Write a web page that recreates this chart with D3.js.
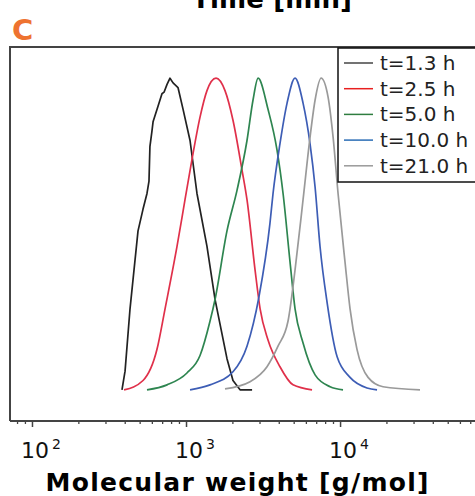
<!DOCTYPE html>
<html>
<head>
<meta charset="utf-8">
<script src="https://cdn.jsdelivr.net/npm/d3@7"></script>
<style>
  body { margin: 0; background: #fff; }
  svg { display: block; font-family: "DejaVu Sans", Verdana, sans-serif; }
</style>
</head>
<body>
<script>
// molecular weight [g/mol] and normalised intensity
const mw13 = [384, 402, 433, 488, 526, 558, 575, 583, 601, 611, 658, 698, 720, 753, 787, 824, 887, 957, 1062, 1178, 1368, 1543, 1845, 2018, 2243, 2685];
const in13 = [0, 0.06, 0.26, 0.51, 0.58, 0.63, 0.67, 0.78, 0.83, 0.86, 0.91, 0.95, 0.955, 0.98, 1.0, 0.985, 0.97, 0.90, 0.80, 0.63, 0.46, 0.29, 0.10, 0.03, 0, 0];

const mw25 = [396, 526, 648, 731, 874, 985, 1094, 1233, 1368, 1566, 1791, 2018, 2310, 2488, 2806, 3027, 3407, 4074, 4951, 6577];
const in25 = [0, 0.03, 0.13, 0.26, 0.46, 0.61, 0.74, 0.875, 0.96, 1.0, 0.96, 0.865, 0.705, 0.61, 0.385, 0.26, 0.16, 0.074, 0.016, 0];

const mw50 = [558, 753, 1014, 1233, 1431, 1543, 1845, 2143, 2488, 2723, 2937, 3407, 3896, 4266, 4735, 5103, 5752, 6886, 8615, 10450];
const in50 = [0, 0.016, 0.054, 0.11, 0.22, 0.29, 0.51, 0.64, 0.80, 0.93, 1.0, 0.90, 0.77, 0.63, 0.41, 0.26, 0.15, 0.048, 0.01, 0];

const mw100 = [1062, 1431, 2018, 2488, 2979, 3508, 3672, 4074, 4529, 5103, 5752, 6383, 6886, 7413, 8241, 9572, 11610, 14970, 17380];
const in100 = [0, 0.016, 0.058, 0.14, 0.30, 0.535, 0.63, 0.79, 0.92, 1.0, 0.92, 0.79, 0.65, 0.46, 0.28, 0.106, 0.04, 0.006, 0];

const mw210 = [1791, 2604, 3356, 3955, 4592, 4735, 5103, 5752, 6383, 6886, 7534, 8356, 9015, 9706, 10770, 11610, 12880, 15200, 19010, 33040];
const in210 = [0.003, 0.026, 0.074, 0.14, 0.22, 0.26, 0.385, 0.61, 0.81, 0.93, 1.0, 0.94, 0.81, 0.63, 0.41, 0.26, 0.13, 0.04, 0.01, 0];

const seriesNames = ['t=1.3 h', 't=2.5 h', 't=5.0 h', 't=10.0 h', 't=21.0 h'];
const seriesColors = ['#222222', '#e0304a', '#2e8550', '#3d5db5', '#9a9a9a'];
const legendColors = ['#444444', '#e82020', '#2e7d40', '#2a6db5', '#999999'];
const majorExp = [2, 3, 4];

const width = 475, height = 496;
const plotLeft = 10, plotTop = 47, plotRight = 480, plotBottom = 421;

const svg = d3.select('body').append('svg')
  .attr('width', width)
  .attr('height', height);

const x = d3.scaleLog().domain([72, 81000]).range([plotLeft, plotRight]);
const y = d3.scaleLinear().domain([-0.1, 1.1]).range([plotBottom, plotTop]);

// top title (cut off in the original)
svg.append('text')
  .attr('x', 272).attr('y', 8)
  .attr('text-anchor', 'middle')
  .attr('font-size', 26).attr('font-weight', 'bold')
  .attr('textLength', 160).attr('lengthAdjust', 'spacing')
  .text('Time [min]');

// panel letter
svg.append('text')
  .attr('x', 12).attr('y', 40)
  .attr('font-size', 29).attr('font-weight', 'bold')
  .attr('fill', '#ee7330')
  .text('C');

// curves
const allSeries = [[mw13, in13], [mw25, in25], [mw50, in50], [mw100, in100], [mw210, in210]];
allSeries.forEach(([mw, inten], i) => {
  const pts = mw.map((m, j) => [m, inten[j]]);
  const line = d3.line()
    .x(d => x(d[0]))
    .y(d => y(d[1]))
    .curve(i === 0 ? d3.curveLinear : d3.curveMonotoneX);
  svg.append('path')
    .datum(pts)
    .attr('fill', 'none')
    .attr('stroke', seriesColors[i])
    .attr('stroke-width', 1.7)
    .attr('stroke-linejoin', 'round')
    .attr('d', line);
});

// minor ticks
const minorVals = [];
[1, 2, 3, 4].forEach(e => {
  for (let k = 2; k <= 9; k++) {
    const v = k * Math.pow(10, e);
    if (v > 72 && v < 81000) minorVals.push(v);
  }
});
svg.append('g')
  .attr('transform', `translate(0,${plotBottom})`)
  .call(d3.axisBottom(x).tickValues(minorVals).tickSize(3).tickFormat(''))
  .call(g => g.select('.domain').remove())
  .call(g => g.selectAll('line').attr('stroke', '#444').attr('stroke-width', 1.3));

// major ticks
svg.append('g')
  .attr('transform', `translate(0,${plotBottom})`)
  .call(d3.axisBottom(x).tickValues(majorExp.map(e => Math.pow(10, e))).tickSize(6).tickFormat(''))
  .call(g => g.select('.domain').remove())
  .call(g => g.selectAll('line').attr('stroke', '#444').attr('stroke-width', 1.5));

// tick labels 10^n
majorExp.forEach(e => {
  const t = svg.append('text')
    .attr('x', x(Math.pow(10, e)) + 9)
    .attr('y', 458)
    .attr('text-anchor', 'middle')
    .attr('font-size', 22)
    .attr('fill', '#111');
  t.append('tspan').text('10');
  t.append('tspan').attr('dx', 3).attr('dy', -9).attr('font-size', 14).text(e);
});

// frame
svg.append('path')
  .attr('d', `M${plotLeft},${plotBottom}L${plotLeft},${plotTop}L${plotRight},${plotTop}M${plotLeft},${plotBottom}L${plotRight},${plotBottom}`)
  .attr('fill', 'none')
  .attr('stroke', '#444')
  .attr('stroke-width', 2);

// legend
const lg = svg.append('g');
lg.append('rect')
  .attr('x', 338).attr('y', 48)
  .attr('width', 150).attr('height', 134)
  .attr('fill', '#fff')
  .attr('stroke', '#111')
  .attr('stroke-width', 1.5);
seriesNames.forEach((name, i) => {
  const ly = 63 + i * 25.7;
  lg.append('line')
    .attr('x1', 344).attr('x2', 373)
    .attr('y1', ly).attr('y2', ly)
    .attr('stroke', legendColors[i])
    .attr('stroke-width', 1.5);
  lg.append('text')
    .attr('x', 380).attr('y', ly + 7)
    .attr('font-size', 20)
    .attr('fill', '#222')
    .text(name);
});

// x axis title
svg.append('text')
  .attr('x', 237).attr('y', 491)
  .attr('text-anchor', 'middle')
  .attr('font-size', 25).attr('font-weight', 'bold')
  .attr('textLength', 383).attr('lengthAdjust', 'spacing')
  .text('Molecular weight [g/mol]');
</script>
</body>
</html>
